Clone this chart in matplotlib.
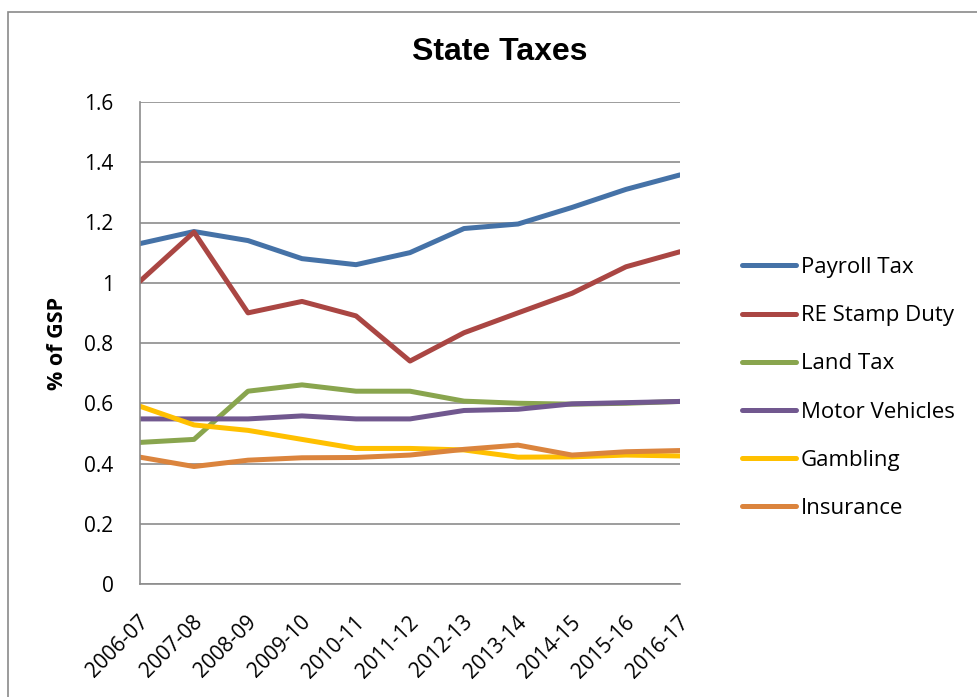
import matplotlib
matplotlib.use("Agg")
import matplotlib.pyplot as plt
from matplotlib.patches import Rectangle
from matplotlib.transforms import ScaledTranslation

# State tax revenue as a share of gross state product
YEARS = ["2006-07", "2007-08", "2008-09", "2009-10", "2010-11", "2011-12",
         "2012-13", "2013-14", "2014-15", "2015-16", "2016-17"]

payroll = [1.13, 1.17, 1.14, 1.08, 1.06, 1.10, 1.18, 1.195, 1.25, 1.31, 1.358]
stamp_duty = [1.005, 1.168, 0.90, 0.938, 0.89, 0.74, 0.834, 0.90, 0.965, 1.053, 1.103]
land_tax = [0.47, 0.48, 0.64, 0.661, 0.64, 0.64, 0.607, 0.60, 0.597, 0.60, 0.606]
motor = [0.548, 0.548, 0.548, 0.558, 0.548, 0.548, 0.576, 0.58, 0.598, 0.602, 0.606]
gambling = [0.59, 0.528, 0.51, 0.48, 0.45, 0.45, 0.445, 0.421, 0.422, 0.428, 0.425]
insurance = [0.421, 0.39, 0.411, 0.419, 0.42, 0.428, 0.447, 0.461, 0.428, 0.439, 0.443]

SERIES = [
    ("Payroll Tax", payroll, "#4572A7"),
    ("RE Stamp Duty", stamp_duty, "#AA4643"),
    ("Land Tax", land_tax, "#89A54E"),
    ("Motor Vehicles", motor, "#71588F"),
    ("Gambling", gambling, "#FFC000"),
    ("Insurance", insurance, "#DB843D"),
]

BODY_FONT = ["Open Sans", "DejaVu Sans"]
GRID = "#8c8c8c"

fig = plt.figure(figsize=(9.78, 6.97), dpi=100)
ax = fig.add_axes([140 / 978, 1 - 584 / 697, 540 / 978, 482 / 697])

x = list(range(len(YEARS)))
for label, vals, color in SERIES:
    ax.plot(x, vals, color=color, lw=3.6, label=label,
            solid_capstyle="round", solid_joinstyle="round")

ax.set_xlim(0, len(YEARS) - 1)
ax.set_ylim(0, 1.6)
ax.set_yticks([0, 0.2, 0.4, 0.6, 0.8, 1.0, 1.2, 1.4, 1.6])
ax.set_yticklabels(["0", "0.2", "0.4", "0.6", "0.8", "1", "1.2", "1.4", "1.6"],
                   family=BODY_FONT, fontsize=15)
ax.set_xticks(x)
ax.set_xticklabels(YEARS, rotation=45, ha="right", va="top",
                   rotation_mode="anchor", family=BODY_FONT, fontsize=15)
ax.tick_params(axis="both", length=0)
ax.tick_params(axis="y", pad=19)
ax.tick_params(axis="x", pad=20)
shift = ScaledTranslation(-2 / 100, 0, fig.dpi_scale_trans)
for lbl in ax.get_xticklabels():
    lbl.set_transform(lbl.get_transform() + shift)

ax.grid(axis="y", color=GRID, lw=1.2)
ax.set_axisbelow(True)
for side in ("top", "right"):
    ax.spines[side].set_visible(False)
for side in ("left", "bottom"):
    ax.spines[side].set_color(GRID)
    ax.spines[side].set_linewidth(1.2)

ax.set_ylabel("% of GSP", family=BODY_FONT, fontsize=15.5, fontweight="bold",
              labelpad=12)

fig.text(500 / 978, 1 - 52 / 697, "State Taxes", ha="center", va="center",
         family="Liberation Sans", fontsize=23, fontweight="bold")

fig.legend(loc="center left", bbox_to_anchor=(742 / 978, 1 - 388 / 697),
           frameon=False, prop={"family": BODY_FONT, "size": 16},
           handlelength=2.45, handletextpad=0.2, labelspacing=1.22,
           borderpad=0, borderaxespad=0)

# chart-area frame, clipped at the right and bottom edges
fig.add_artist(Rectangle((8 / 978, -0.05), 1.1, 1.05 - 12 / 697,
                         transform=fig.transFigure, fill=False,
                         edgecolor="#8a8a8a", lw=1.2))

fig.savefig("out.png", dpi=100)
